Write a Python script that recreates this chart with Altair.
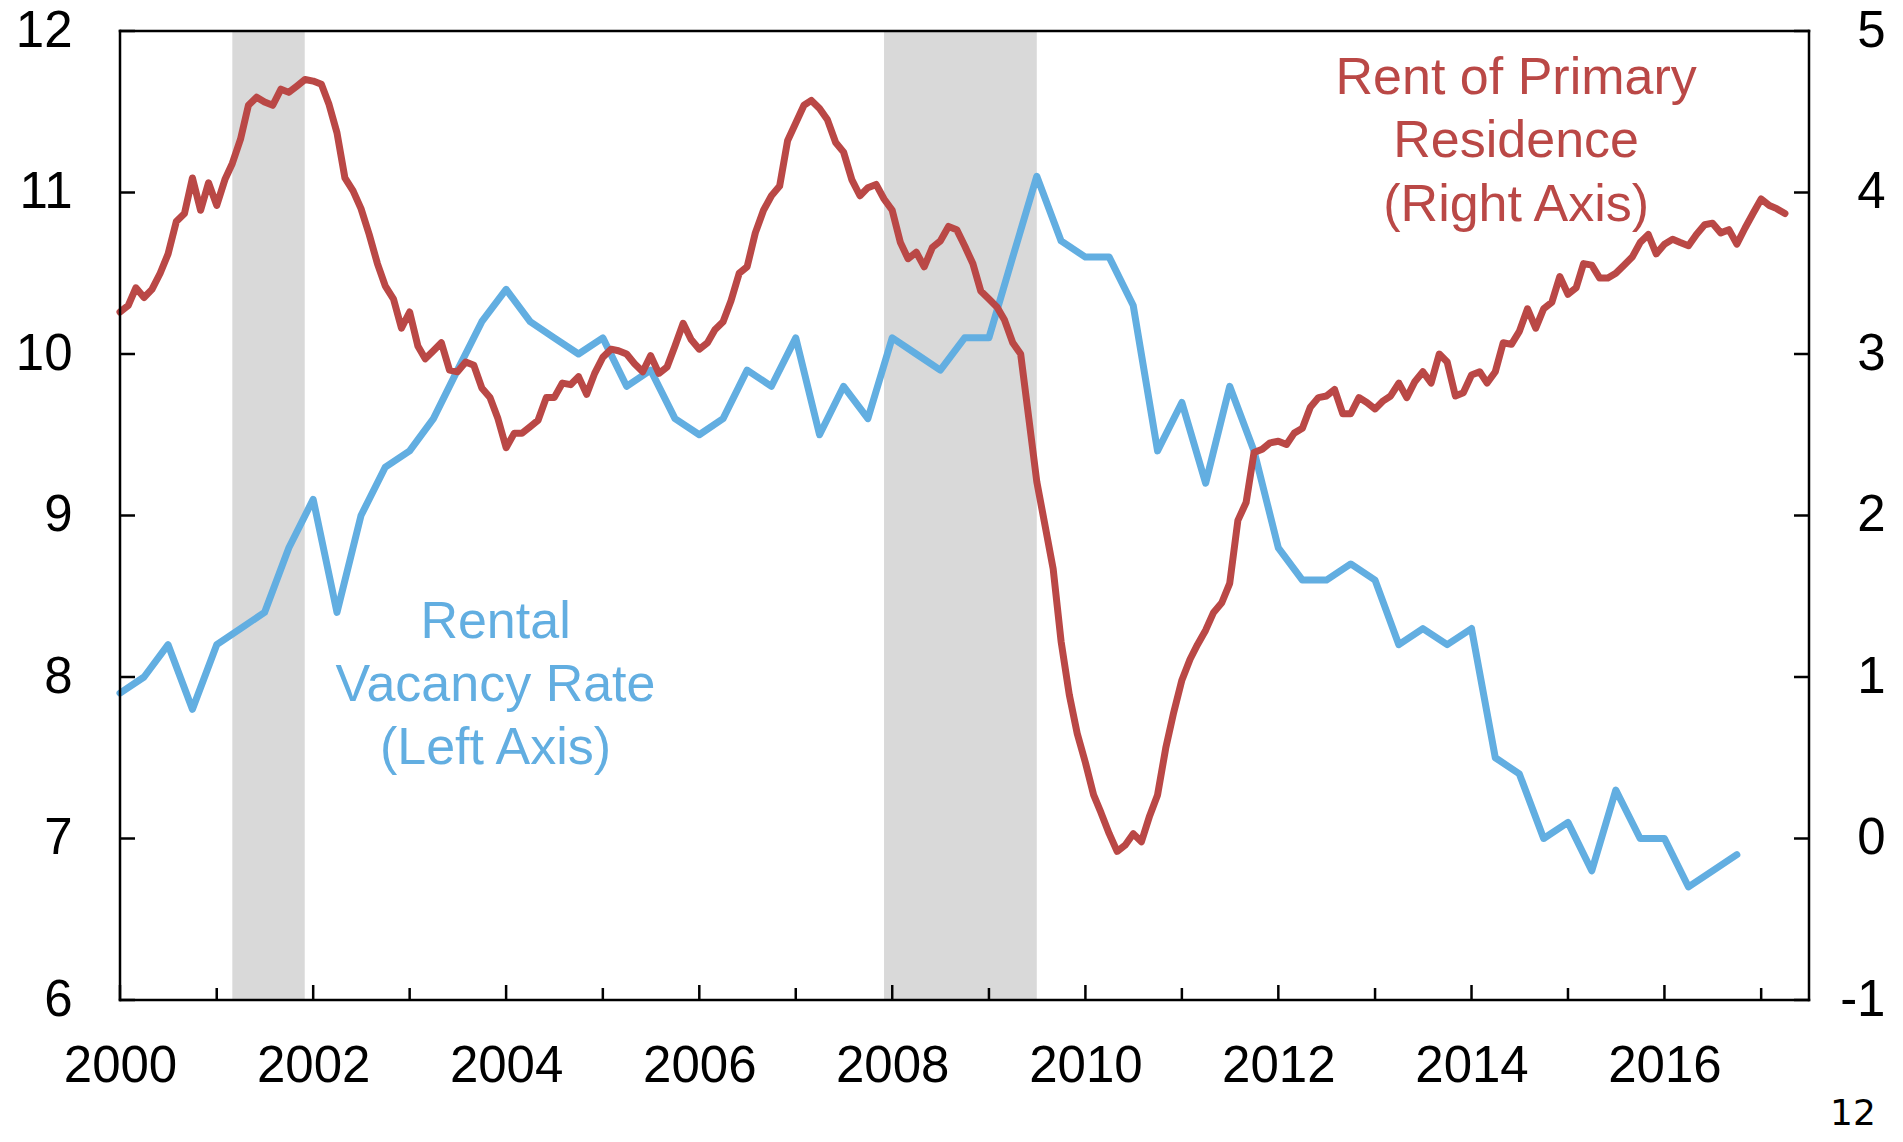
import altair as alt
import pandas as pd

# ---------------- data ----------------
vacancy_rate = [
    7.9, 8.0, 8.2, 7.8,
    8.2, 8.3, 8.4, 8.8,
    9.1, 8.4, 9.0, 9.3,
    9.4, 9.6, 9.9, 10.2,
    10.4, 10.2, 10.1, 10.0,
    10.1, 9.8, 9.9, 9.6,
    9.5, 9.6, 9.9, 9.8,
    10.1, 9.5, 9.8, 9.6,
    10.1, 10.0, 9.9, 10.1,
    10.1, 10.6, 11.1, 10.7,
    10.6, 10.6, 10.3, 9.4,
    9.7, 9.2, 9.8, 9.4,
    8.8, 8.6, 8.6, 8.7,
    8.6, 8.2, 8.3, 8.2,
    8.3, 7.5, 7.4, 7.0,
    7.1, 6.8, 7.3, 7.0,
    7.0, 6.7, 6.8, 6.9,
]

rent_growth = [
    3.26, 3.30, 3.41, 3.35, 3.40, 3.50, 3.62, 3.82, 3.87, 4.09, 3.89, 4.06,
    3.92, 4.08, 4.18, 4.33, 4.54, 4.59, 4.56, 4.54, 4.64, 4.62, 4.66, 4.70,
    4.69, 4.67, 4.55, 4.37, 4.09, 4.01, 3.90, 3.74, 3.56, 3.42, 3.34, 3.16,
    3.26, 3.05, 2.97, 3.02, 3.07, 2.90, 2.89, 2.95, 2.93, 2.79, 2.73, 2.60,
    2.42, 2.51, 2.51, 2.55, 2.59, 2.73, 2.73, 2.82, 2.81, 2.86, 2.75, 2.88,
    2.98, 3.03, 3.02, 3.00, 2.94, 2.89, 2.99, 2.88, 2.92, 3.05, 3.19, 3.09,
    3.03, 3.07, 3.15, 3.20, 3.33, 3.50, 3.54, 3.75, 3.89, 3.98, 4.04, 4.32,
    4.43, 4.54, 4.57, 4.52, 4.45, 4.31, 4.25, 4.08, 3.98, 4.03, 4.05, 3.96,
    3.89, 3.69, 3.59, 3.63, 3.54, 3.66, 3.70, 3.79, 3.77, 3.67, 3.56, 3.39,
    3.34, 3.29, 3.21, 3.07, 3.00, 2.60, 2.21, 1.94, 1.67, 1.22, 0.89, 0.65,
    0.47, 0.27, 0.16, 0.03, -0.08, -0.04, 0.03, -0.02, 0.14, 0.27, 0.56, 0.78,
    0.98, 1.11, 1.20, 1.29, 1.40, 1.46, 1.58, 1.97, 2.08, 2.39, 2.41, 2.45,
    2.46, 2.44, 2.51, 2.54, 2.67, 2.73, 2.74, 2.78, 2.63, 2.63, 2.73, 2.70,
    2.66, 2.71, 2.74, 2.82, 2.73, 2.83, 2.89, 2.82, 3.00, 2.95, 2.74, 2.76,
    2.87, 2.89, 2.82, 2.89, 3.07, 3.06, 3.14, 3.28, 3.16, 3.28, 3.32, 3.48,
    3.37, 3.41, 3.56, 3.55, 3.47, 3.47, 3.50, 3.55, 3.60, 3.69, 3.74, 3.62,
    3.68, 3.71, 3.69, 3.67, 3.74, 3.80, 3.81, 3.75, 3.77, 3.68, 3.78, 3.87,
    3.96, 3.92, 3.90, 3.87,
]

recession_start = ["2001-03-01T00:00:00", "2007-12-01T00:00:00"]
recession_end = ["2001-11-30T00:00:00", "2009-07-01T00:00:00"]

left_ticks = [6, 7, 8, 9, 10, 11, 12]
right_ticks = [-1, 0, 1, 2, 3, 4, 5]
tick_years = list(range(2000, 2018))
label_years = [2000, 2002, 2004, 2006, 2008, 2010, 2012, 2014, 2016]

vacancy_label = ["Rental", "Vacancy Rate", "(Left Axis)"]
vacancy_label_x = "2003-11-22T00:00:00"
vacancy_label_y = [8.241, 7.851, 7.461]

rent_label = ["Rent of Primary", "Residence", "(Right Axis)"]
rent_label_x = "2014-06-19T00:00:00"
rent_label_y = [4.610, 4.220, 3.824]

page_number = "12"

# ---------------- tables ----------------
vac_df = pd.DataFrame({
    "date": pd.date_range("2000-01-01", periods=len(vacancy_rate), freq="QS").strftime("%Y-%m-%dT00:00:00"),
    "value": vacancy_rate,
})
rent_df = pd.DataFrame({
    "date": pd.date_range("2000-01-01", periods=len(rent_growth), freq="MS").strftime("%Y-%m-%dT00:00:00"),
    "value": rent_growth,
})
rec_df = pd.DataFrame({"date": recession_start, "end": recession_end})
major_df = pd.DataFrame({"date": [f"{y}-01-01T00:00:00" for y in tick_years if y % 2 == 0]})
minor_df = pd.DataFrame({"date": [f"{y}-01-01T00:00:00" for y in tick_years if y % 2 == 1]})
left_df = pd.DataFrame({"v": left_ticks})
right_df = pd.DataFrame({"v": right_ticks})
frame_h_df = pd.DataFrame({"v": [left_ticks[0], left_ticks[-1]]})
frame_v_df = pd.DataFrame({"date": ["2000-01-01T00:00:00", "2017-07-01T00:00:00"]})
vac_lab_df = pd.DataFrame({"t": vacancy_label, "y": vacancy_label_y, "date": [vacancy_label_x] * 3})
rent_lab_df = pd.DataFrame({"t": rent_label, "y": rent_label_y, "date": [rent_label_x] * 3})
page_df = pd.DataFrame({"t": [page_number]})

# ---------------- style ----------------
W, H = 1689, 969
BLUE = "#62AEE1"
RED = "#BA4846"
GREY = "#D9D9D9"
FONT = "Liberation Sans"
FS = 51
LW = 7

xscale = alt.Scale(
    domain=[alt.DateTime(year=2000, month=1, date=1), alt.DateTime(year=2017, month=7, date=1)],
    nice=False,
)
lscale = alt.Scale(domain=[6, 12], nice=False, zero=False)
rscale = alt.Scale(domain=[-1, 5], nice=False, zero=False)

x_axis = alt.Axis(
    values=[alt.DateTime(year=y, month=1, date=1) for y in label_years],
    format="%Y", labelFontSize=FS, labelFont=FONT, labelColor="black",
    labelPadding=81, labelBaseline="alphabetic", ticks=False, tickSize=0,
    domain=False, grid=False, title=None, labelFlush=False, labelOverlap=False,
    labelBound=False,
)
left_axis = alt.Axis(
    orient="left", values=left_ticks, labelFontSize=FS, labelFont=FONT,
    labelColor="black", labelPadding=48, ticks=False, tickSize=0,
    domain=False, grid=False, title=None, labelOverlap=False,
)
right_axis = alt.Axis(
    orient="right", values=right_ticks, labelFontSize=FS, labelFont=FONT,
    labelColor="black", labelPadding=76, labelAlign="right", ticks=False,
    tickSize=0, domain=False, grid=False, title=None, labelOverlap=False,
    labelExpr="'' + datum.value",
)


def X():
    return alt.X("date:T", scale=xscale, axis=x_axis)


shading = alt.Chart(rec_df).mark_rect(color=GREY).encode(x=X(), x2="end:T")

major_ticks = alt.Chart(major_df).mark_rule(color="black", strokeWidth=2.5).encode(
    x=X(), y=alt.value(H - 15), y2=alt.value(H)
)
minor_ticks = alt.Chart(minor_df).mark_rule(color="black", strokeWidth=2.5).encode(
    x=X(), y=alt.value(H - 12), y2=alt.value(H)
)
left_tk = alt.Chart(left_df).mark_rule(color="black", strokeWidth=2.5).encode(
    y=alt.Y("v:Q", scale=lscale, axis=None), x=alt.value(0), x2=alt.value(15)
)
right_tk = alt.Chart(right_df).mark_rule(color="black", strokeWidth=2.5).encode(
    y=alt.Y("v:Q", scale=rscale, axis=None), x=alt.value(W - 15), x2=alt.value(W)
)

blue_line = alt.Chart(vac_df).mark_line(
    color=BLUE, strokeWidth=LW, strokeJoin="round", strokeCap="round"
).encode(
    x=X(),
    y=alt.Y("value:Q", scale=lscale, axis=left_axis),
)
red_line = alt.Chart(rent_df).mark_line(
    color=RED, strokeWidth=LW, strokeJoin="round", strokeCap="round"
).encode(
    x=X(),
    y=alt.Y("value:Q", scale=rscale, axis=right_axis),
)

frame_h = alt.Chart(frame_h_df).mark_rule(color="black", strokeWidth=2.5, strokeCap="square").encode(
    y=alt.Y("v:Q", scale=lscale, axis=None)
)
frame_v = alt.Chart(frame_v_df).mark_rule(color="black", strokeWidth=2.5, strokeCap="square").encode(
    x=X()
)

vac_text = alt.Chart(vac_lab_df).mark_text(
    color=BLUE, fontSize=52, font=FONT, align="center", baseline="alphabetic"
).encode(x=X(), y=alt.Y("y:Q", scale=lscale, axis=None), text="t:N")

rent_text = alt.Chart(rent_lab_df).mark_text(
    color=RED, fontSize=52, font=FONT, align="center", baseline="alphabetic"
).encode(x=X(), y=alt.Y("y:Q", scale=rscale, axis=None), text="t:N")

page_text = alt.Chart(page_df).mark_text(
    color="black", fontSize=36, font="DejaVu Sans", align="center", baseline="alphabetic"
).encode(x=alt.value(1733), y=alt.value(1094), text="t:N")

chart = alt.layer(
    shading, major_ticks, minor_ticks, left_tk, right_tk,
    blue_line, red_line, frame_h, frame_v, vac_text, rent_text, page_text,
).resolve_scale(y="independent").properties(
    width=W, height=H,
    autosize=alt.AutoSizeParams(type="none"),
    padding={"left": 112, "top": 23, "right": 86, "bottom": 130},
).configure_view(stroke=None).configure(font=FONT)

chart.save("out.html", embed_options={"renderer": "svg", "actions": False})
